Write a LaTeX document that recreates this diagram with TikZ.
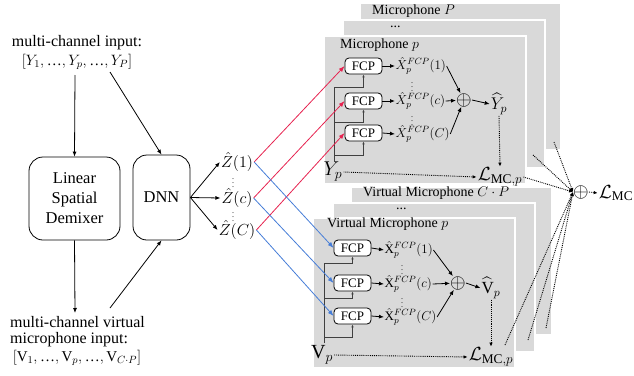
\documentclass[tikz,border=0pt]{standalone}
\usepackage{fix-cm}
\usepackage{fontspec}
\setmainfont{Liberation Serif}
\usepackage{amsmath}
\usetikzlibrary{arrows.meta}
\definecolor{panel}{RGB}{217,217,217}
\definecolor{myred}{RGB}{230,35,80}
\definecolor{myblue}{RGB}{70,125,215}
\newcommand{\fs}[1]{\fontsize{#1}{#1}\selectfont}
\newcommand{\tdots}{\text{…}}
\begin{document}
\begin{tikzpicture}[x=1pt,y=-1pt,
  panelbox/.style={fill=panel, draw=white, line width=1.5pt},
  bigbox/.style={draw, line width=0.8pt, rounded corners=14pt, align=center, inner sep=0pt, font=\fontsize{16.5}{20}\selectfont},
  fcp/.style={draw, fill=white, line width=0.8pt, rounded corners=4pt, minimum width=37pt, minimum height=16pt, inner sep=0pt, font=\fs{13}},
  txt/.style={font=\fontsize{16}{19}\selectfont, inner sep=1pt},
  plab/.style={font=\fs{14}, anchor=west, inner sep=0pt},
  xlab/.style={font=\fs{13}, anchor=west, inner sep=0.5pt},
  zlab/.style={font=\fs{16}, inner sep=1pt},
  dots/.style={font=\fs{8}, inner sep=0pt},
  opl/.style={font=\fs{20}, inner sep=0pt},
  arr/.style={-{Latex[length=5pt,width=4pt]}, line width=0.8pt},
  redarr/.style={-{Latex[length=6pt,width=4.5pt]}, line width=0.8pt, draw=myred},
  bluearr/.style={-{Latex[length=6pt,width=4.5pt]}, line width=0.8pt, draw=myblue},
  dotarr/.style={densely dotted, -{Latex[length=4pt,width=3.5pt]}, line width=0.9pt},
  fbline/.style={draw=black!75, line width=0.6pt},
  fbarr/.style={draw=black!75, line width=0.6pt, -{Latex[length=3pt,width=2.5pt]}}
]
\useasboundingbox (0,0) rectangle (634,375);

% ---------- panels (upper) ----------
\path[panelbox] (360,3) rectangle (561,150);
\path[panelbox] (343,20) rectangle (545,168);
\path[panelbox] (324,36) rectangle (526,184);
\node[plab] (tP) at (372,11) {Microphone $P$};
\node[plab] (tdu) at (390,27) {...};
\node[plab] (tp) at (340,45) {Microphone $p$};

% ---------- panels (lower) ----------
\path[panelbox] (351,187) rectangle (552,335);
\path[panelbox] (333,203) rectangle (535,352);
\path[panelbox] (313,218) rectangle (515,368);
\node[plab] (tCP) at (363,193) {Virtual Microphone $C\cdot P$};
\node[plab] (tdl) at (396,209) {...};
\node[plab] (tvp) at (327,224) {Virtual Microphone $p$};

% ---------- left part ----------
\node[txt] (inp1) at (77,43) {multi-channel input:};
\node[txt, font=\fs{15}] (inp2) at (77,62) {$[Y_1,\tdots,Y_p,\tdots,Y_P]$};
\node[bigbox, minimum width=91pt, minimum height=83pt] (lsd) at (74.5,198.5) {Linear\\Spatial\\Demixer};
\node[bigbox, minimum width=57pt, minimum height=85pt] (dnn) at (161.5,197.5) {DNN};
\node[txt, anchor=west] (vin1) at (9,322) {multi-channel virtual};
\node[txt, anchor=west] (vin2) at (9,340) {microphone input:};
\node[txt, font=\fs{15}] (vin3) at (77,358) {$[\mathrm{V}_1,\tdots,\mathrm{V}_p,\tdots,\mathrm{V}_{C\cdot P}]$};
\coordinate (ia) at (75,75);
\coordinate (ib) at (110,72);
\coordinate (va) at (75,313);
\coordinate (vb) at (110,308);
\draw[arr] (ia) -- (lsd.north);
\draw[arr] (ib) -- (dnn.north);
\draw[arr] (lsd.south) -- (va);
\draw[arr] (vb) -- (dnn.south);

% ---------- Z hat ----------
\node[zlab] (z1) at (237,162) {$\hat{Z}(1)$};
\node[zlab] (zc) at (237,198) {$\hat{Z}(c)$};
\node[zlab] (zC) at (237,230) {$\hat{Z}(C)$};
\node[dots] (zd1) at (233,180.5) {$\vdots$};
\node[dots] (zd2) at (233,214.5) {$\vdots$};
\draw[arr] (dnn.east) -- (z1.west);
\draw[arr] (dnn.east) -- (zc.west);
\draw[arr] (dnn.east) -- (zC.west);

% ---------- upper microphone p ----------
\node[fcp] (fu1) at (363.5,66) {FCP};
\node[fcp] (fu2) at (363.5,101) {FCP};
\node[fcp] (fu3) at (363.5,133) {FCP};
\node[xlab] (xu1) at (395,66) {$\hat{X}_p^{FCP}(1)$};
\node[xlab] (xu2) at (395,101) {$\hat{X}_p^{FCP}(c)$};
\node[xlab] (xu3) at (395,134) {$\hat{X}_p^{FCP}(C)$};
\node[dots] (xdu1) at (412,84) {$\vdots$};
\node[dots] (xdu2) at (412,118.5) {$\vdots$};
\node[opl] (ou) at (464,100) {$\oplus$};
\node[font=\fs{17}, inner sep=1pt] (yhat) at (499,104) {$\widehat{Y}_p$};
\node[font=\fs{20}, inner sep=1pt] (yp) at (333,172) {$Y_p$};
\node[font=\fs{19}, inner sep=1pt] (lu) at (500,177) {$\mathcal{L}_{\mathrm{MC},p}$};
\foreach \i in {1,2,3} {\draw[arr] (fu\i.east) -- (xu\i.west);}
\draw[arr] (xu1.east) -- (ou);
\draw[arr] (xu2.east) -- (ou);
\draw[arr] (xu3.east) -- (ou);
\draw[arr] (ou.east) -- (yhat.west);
\draw[dotarr] (yhat.south) -- (lu.north);
\draw[dotarr] (yp.east) -- (lu.west);
\coordinate (fbu) at (334,162);
\draw[fbline] (fbu) -- (334,87);
\draw[fbarr] (334,87) -| (fu1.south);
\draw[fbarr] (334,122) -| (fu2.south);
\draw[fbarr] (334,155) -| (fu3.south);

% ---------- lower virtual microphone p ----------
\node[fcp] (fl1) at (352.5,248) {FCP};
\node[fcp] (fl2) at (352.5,283) {FCP};
\node[fcp] (fl3) at (352.5,316) {FCP};
\node[xlab] (xl1) at (384,250) {$\hat{\mathrm{X}}_p^{FCP}(1)$};
\node[xlab] (xl2) at (384,284) {$\hat{\mathrm{X}}_p^{FCP}(c)$};
\node[xlab] (xl3) at (384,317) {$\hat{\mathrm{X}}_p^{FCP}(C)$};
\node[dots] (xdl1) at (402,267) {$\vdots$};
\node[dots] (xdl2) at (402,300.5) {$\vdots$};
\node[opl] (ol) at (458,283) {$\oplus$};
\node[font=\fs{17}, inner sep=1pt] (vhat) at (491,288) {$\widehat{\mathrm{V}}_p$};
\node[font=\fs{20}, inner sep=1pt] (vp) at (322,355) {$\mathrm{V}_p$};
\node[font=\fs{19}, inner sep=1pt] (ll) at (491,357) {$\mathcal{L}_{\mathrm{MC},p}$};
\foreach \i in {1,2,3} {\draw[arr] (fl\i.east) -- (xl\i.west);}
\draw[arr] (xl1.east) -- (ol);
\draw[arr] (xl2.east) -- (ol);
\draw[arr] (xl3.east) -- (ol);
\draw[arr] (ol.east) -- (vhat.west);
\draw[dotarr] (vhat.south) -- (ll.north);
\draw[dotarr] (vp.east) -- (ll.west);
\coordinate (fbl) at (324,343);
\draw[fbline] (fbl) -- (324,263);
\draw[fbarr] (324,263) -| (fl1.south);
\draw[fbarr] (324,298) -| (fl2.south);
\draw[fbarr] (324,337) -| (fl3.south);

% ---------- red / blue connections ----------
\draw[redarr] (z1.east) -- (fu1.west);
\draw[redarr] (zc.east) -- (fu2.west);
\draw[redarr] (zC.east) -- (fu3.west);
\draw[bluearr] (z1.east) -- (fl1.west);
\draw[bluearr] (zc.east) -- (fl2.west);
\draw[bluearr] (zC.east) -- (fl3.west);

% ---------- total loss ----------
\node[opl] (ob) at (581,192) {$\oplus$};
\node[font=\fs{19}, inner sep=1pt] (lmc) at (616,193) {$\mathcal{L}_{\mathrm{MC}}$};
\draw[dotarr] (ob.east) -- (lmc.west);
\coordinate (s2) at (533,155);
\coordinate (s3) at (554,142);
\coordinate (s4) at (505,345);
\coordinate (s5) at (528,340);
\coordinate (s6) at (546,328);
\draw[dotarr] (lu.east) -- (ob.west);
\draw[dotarr] (s2) -- (ob.west);
\draw[dotarr] (s3) -- (ob.west);
\draw[dotarr] (s4) -- (ob.west);
\draw[dotarr] (s5) -- (ob.west);
\draw[dotarr] (s6) -- (ob.west);
\end{tikzpicture}
\end{document}
